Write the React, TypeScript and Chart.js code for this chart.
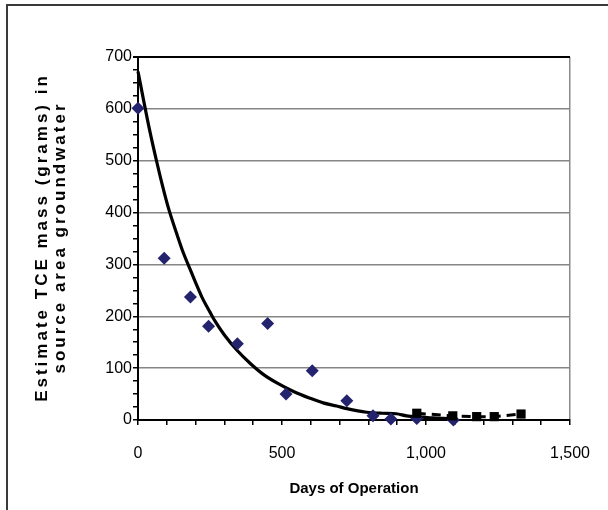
import { useEffect, useRef } from 'react';
import { Chart, registerables } from 'chart.js';

Chart.register(...registerables);

// Measured TCE mass (diamonds)
const measuredDays = [0, 91, 182, 245, 345, 450, 514, 605, 725, 816, 878, 968, 1095];
const measuredMass = [601, 312, 237, 181, 147, 186, 50, 95, 37, 8, 2, 3, 0];

// Model / fitted decay curve (solid line)
const modelDays = [0, 20, 40, 65, 85, 105, 134, 157, 180, 200, 221, 250, 267, 300, 343, 390, 435, 487, 540, 597, 643, 690, 725, 794, 850, 897, 933, 980, 1025, 1060, 1100];
const modelMass = [672, 615, 560, 498, 452, 410, 360, 323, 292, 265, 238, 208, 191, 164, 135, 109, 88, 70, 55, 42, 33, 27, 22, 15, 13, 12, 8, 6, 4, 3, 2];

// Later measurements (squares, dashed line)
const laterDays = [968, 1093, 1176, 1237, 1330];
const laterMass = [13, 8, 6.5, 6.5, 11.5];

// Axis ticks
const xTickValues = [0, 500, 1000, 1500];
const yTickValues = [0, 100, 200, 300, 400, 500, 600, 700];
const xTitle = 'Days of Operation';
const yTitleLines = ['Estimate TCE mass (grams) in', 'source area groundwater'];

const FONT = "'Liberation Sans', Arial, Helvetica, sans-serif";

export default function App() {
  const ref = useRef<HTMLCanvasElement | null>(null);

  useEffect(() => {
    const canvas = ref.current;
    if (!canvas) return;

    const pts = (xs: number[], ys: number[]) => xs.map((x, i) => ({ x, y: ys[i] }));

    const framePlugin = {
      id: 'frame',
      afterDraw(chart: any) {
        const { ctx, chartArea } = chart;
        ctx.save();
        ctx.strokeStyle = '#3a3a3a';
        ctx.lineWidth = 2;
        ctx.strokeRect(7, 5, 640, 560);
        ctx.fillStyle = '#000';
        ctx.font = `bold 17px ${FONT}`;
        (ctx as any).letterSpacing = '3px';
        ctx.textAlign = 'center';
        ctx.textBaseline = 'middle';
        const cy = (chartArea.top + chartArea.bottom) / 2 - 1;
        const xs = [42, 60];
        yTitleLines.forEach((line, i) => {
          ctx.save();
          ctx.translate(xs[i], cy);
          ctx.rotate(-Math.PI / 2);
          ctx.fillText(line, 0, 0);
          ctx.restore();
        });
        ctx.restore();
      },
    };

    const chart = new Chart(canvas, {
      type: 'scatter',
      data: {
        datasets: [
          {
            label: 'Later',
            data: pts(laterDays, laterMass),
            showLine: true,
            borderColor: '#000',
            backgroundColor: '#000',
            borderWidth: 3,
            borderDash: [9, 6],
            pointStyle: 'rect',
            pointRadius: 6.5,
            pointBorderWidth: 0,
            clip: false,
          } as any,
          {
            label: 'Measured',
            data: pts(measuredDays, measuredMass),
            showLine: false,
            backgroundColor: '#23236e',
            borderColor: '#23236e',
            pointStyle: 'rectRot',
            pointRadius: 6.5,
            pointBorderWidth: 0,
            clip: false,
          } as any,
          {
            label: 'Model',
            data: pts(modelDays, modelMass),
            showLine: true,
            borderColor: '#000',
            borderWidth: 3.2,
            pointRadius: 0,
            cubicInterpolationMode: 'monotone',
            clip: false,
          } as any,
        ],
      },
      options: {
        responsive: false,
        animation: false,
        devicePixelRatio: 1,
        layout: { padding: { left: 0, top: 57, right: 38, bottom: 0 } },
        plugins: { legend: { display: false }, tooltip: { enabled: false } },
        scales: {
          x: {
            type: 'linear',
            min: xTickValues[0],
            max: xTickValues[xTickValues.length - 1],
            afterFit: (s: any) => { s.height = 90; s.paddingLeft = 0; s.paddingRight = 0; },
            afterBuildTicks: (s: any) => {
              const t = [];
              for (let v = s.min; v <= s.max; v += 100) t.push({ value: v });
              s.ticks = t;
            },
            ticks: {
              autoSkip: false,
              maxRotation: 0,
              minRotation: 0,
              padding: 19,
              color: '#000',
              font: { family: FONT, size: 16 },
              callback: (v: any) => (xTickValues.includes(v) ? Number(v).toLocaleString('en-US') : ''),
            },
            grid: {
              drawOnChartArea: true,
              color: (c: any) => (c.tick && c.tick.value === 1500 ? '#8a8a8a' : 'rgba(0,0,0,0)'),
              lineWidth: 1.5,
              tickColor: '#000',
              tickLength: 5,
            },
            border: { color: '#000', width: 2 },
            title: {
              display: true,
              text: xTitle,
              color: '#000',
              font: { family: FONT, size: 15, weight: 'bold' },
              padding: { top: 0, bottom: 12 },
            },
          },
          y: {
            type: 'linear',
            min: yTickValues[0],
            max: yTickValues[yTickValues.length - 1],
            afterFit: (s: any) => { s.width = 138; s.paddingTop = 0; s.paddingBottom = 0; },
            afterBuildTicks: (s: any) => {
              const t = [];
              for (let v = s.min; v <= s.max; v += 25) t.push({ value: v });
              s.ticks = t;
            },
            ticks: {
              autoSkip: false,
              padding: 1,
              color: '#000',
              font: { family: FONT, size: 16 },
              callback: (v: any) => (yTickValues.includes(v) ? String(v) : ''),
            },
            grid: {
              drawOnChartArea: true,
              color: (c: any) => {
                const v = c.tick ? c.tick.value : -1;
                if (v === 700) return '#000';
                return v % 100 === 0 && v > 0 ? '#858585' : 'rgba(0,0,0,0)';
              },
              lineWidth: (c: any) => (c.tick && c.tick.value === 700 ? 2 : 1.5),
              tickColor: '#000',
              tickLength: 5,
            },
            border: { color: '#000', width: 2 },
          },
        },
      },
      plugins: [framePlugin],
    } as any);

    return () => chart.destroy();
  }, []);

  return (
    <div style={{ position: 'absolute', left: 0, top: 0, width: 608, height: 510, background: '#fff' }}>
      <canvas ref={ref} width={608} height={510} style={{ display: 'block', width: 608, height: 510 }} />
    </div>
  );
}
